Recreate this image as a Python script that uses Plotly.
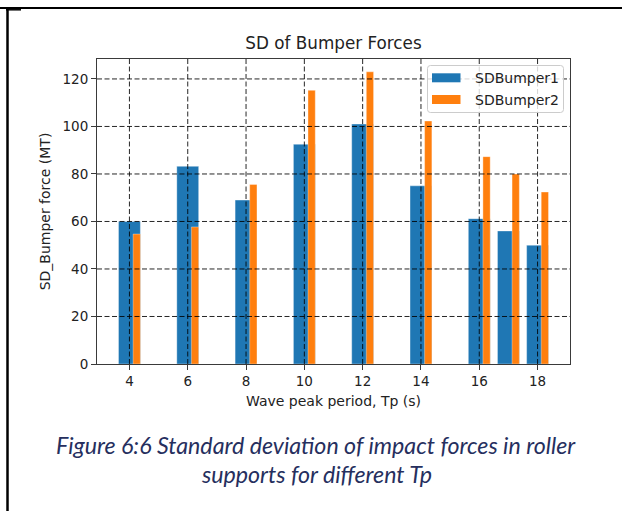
import plotly.graph_objects as go

# Wave peak periods and standard deviation of bumper forces (MT)
tp = [4, 6, 8, 10, 12, 14, 16, 17, 18]
sd_bumper1 = [60.0, 83.2, 69.0, 92.5, 101.0, 75.0, 61.2, 56.0, 50.0]
sd_bumper2 = [54.7, 57.7, 75.6, 115.2, 123.0, 102.3, 87.3, 80.0, 72.4]
series_names = ["SDBumper1", "SDBumper2"]

x_ticks = [4, 6, 8, 10, 12, 14, 16, 18]
y_ticks = [0, 20, 40, 60, 80, 100, 120]

chart_title = "SD of Bumper Forces"
x_title = "Wave peak period, Tp (s)"
y_title = "SD_Bumper force (MT)"
caption_lines = [
    "Figure 6:6 Standard deviation of impact forces in roller",
    "supports for different Tp",
]

BLUE = "#1f77b4"
ORANGE = "#ff7f0e"
TEXT = "#222222"
FONT = "DejaVu Sans"

# page and plot-area geometry in pixels
W, H = 622, 511
L, R, T, B = 97, 570, 59, 364


def px_x(px):
    return (px - L) / (R - L)


def px_y(py):
    return (B - py) / (B - T)


fig = go.Figure()
fig.add_trace(go.Bar(
    x=tp, y=sd_bumper1, width=0.75, offset=-0.375, name=series_names[0],
    marker=dict(color=BLUE, line=dict(color="rgba(255,255,255,0.35)", width=1)),
    showlegend=False,
))
fig.add_trace(go.Bar(
    x=tp, y=sd_bumper2, width=0.25, offset=0.125, name=series_names[1],
    marker=dict(color=ORANGE, line=dict(color="rgba(255,255,255,0.35)", width=1)),
    showlegend=False,
))

# dashed grid drawn over the bars
grid_line = dict(color="rgba(0,0,0,0.85)", width=1, dash="5px,2.5px")
for v in x_ticks:
    fig.add_shape(type="line", xref="x", yref="paper", x0=v, x1=v, y0=0, y1=1,
                  line=grid_line, layer="above")
for v in y_ticks[1:]:
    fig.add_shape(type="line", xref="paper", yref="y", x0=0, x1=1, y0=v, y1=v,
                  line=grid_line, layer="above")


def rounded_rect(x0, y0, x1, y1, r):
    pts = [
        ("M", (x0 + r, y0)), ("L", (x1 - r, y0)), ("Q", (x1, y0), (x1, y0 + r)),
        ("L", (x1, y1 - r)), ("Q", (x1, y1), (x1 - r, y1)), ("L", (x0 + r, y1)),
        ("Q", (x0, y1), (x0, y1 - r)), ("L", (x0, y0 + r)), ("Q", (x0, y0), (x0 + r, y0)),
    ]
    out = []
    for cmd, *coords in pts:
        out.append(cmd + " ".join(f"{px_x(a):.5f},{px_y(b):.5f}" for a, b in coords))
    return " ".join(out) + " Z"


# legend box
fig.add_shape(type="path", xref="paper", yref="paper",
              path=rounded_rect(427.5, 65.5, 563.5, 112.5, 3),
              fillcolor="rgba(255,255,255,0.8)", line=dict(color="#cccccc", width=1),
              layer="above")
legend_rows = [(77.8, BLUE), (99.5, ORANGE)]
for (cy, col), name in zip(legend_rows, series_names):
    fig.add_shape(type="rect", xref="paper", yref="paper",
                  x0=px_x(432), x1=px_x(460.5), y0=px_y(cy - 4.5), y1=px_y(cy + 4.5),
                  fillcolor=col, line=dict(width=0), layer="above")
    fig.add_annotation(xref="paper", yref="paper", x=px_x(473), y=px_y(cy),
                       xanchor="left", yanchor="middle", showarrow=False, text=name,
                       font=dict(family=FONT, size=14, color=TEXT))

# document frame lines around the figure cell
frame = dict(color="black")
fig.add_shape(type="line", xref="paper", yref="paper", x0=px_x(0), x1=px_x(W),
              y0=px_y(8), y1=px_y(8), line=dict(width=2, **frame), layer="above")
fig.add_shape(type="line", xref="paper", yref="paper", x0=px_x(7.5), x1=px_x(7.5),
              y0=px_y(8), y1=px_y(H), line=dict(width=2.5, **frame), layer="above")
fig.add_shape(type="line", xref="paper", yref="paper", x0=px_x(6), x1=px_x(21),
              y0=px_y(9.8), y1=px_y(9.8), line=dict(width=1.5, **frame), layer="above")

# caption
for text, cy in zip(caption_lines, [445, 474]):
    fig.add_annotation(xref="paper", yref="paper", x=px_x(316), y=px_y(cy),
                       xanchor="center", yanchor="middle", showarrow=False,
                       text=f"<i>{text}</i>",
                       font=dict(family="Lato", size=23.2, color="#262f5e"))

axis_common = dict(
    showline=True, linecolor="#3a3a3a", linewidth=1.1, mirror=True,
    showgrid=False, zeroline=False, ticks="outside", ticklen=5, tickwidth=1,
    tickcolor="#3a3a3a", tickfont=dict(family=FONT, size=13.5, color=TEXT),
    automargin=False,
)

fig.update_layout(
    width=W, height=H,
    margin=dict(l=L, r=W - R, t=T, b=H - B, pad=0),
    paper_bgcolor="white", plot_bgcolor="white",
    barmode="overlay", showlegend=False,
    title=dict(text=chart_title, x=0.5, xref="paper", xanchor="center",
               y=(H - 43) / H, yref="container", yanchor="middle",
               font=dict(family=FONT, size=16.8, color=TEXT)),
    xaxis=dict(range=[2.8875, 19.1125], tickvals=x_ticks,
               title=dict(text=x_title, standoff=7,
                          font=dict(family=FONT, size=14, color=TEXT)),
               **axis_common),
    yaxis=dict(range=[0, 128.4], tickvals=y_ticks,
               title=dict(text=y_title, standoff=8,
                          font=dict(family=FONT, size=14, color=TEXT)),
               **axis_common),
)

fig.write_html("out.html")
